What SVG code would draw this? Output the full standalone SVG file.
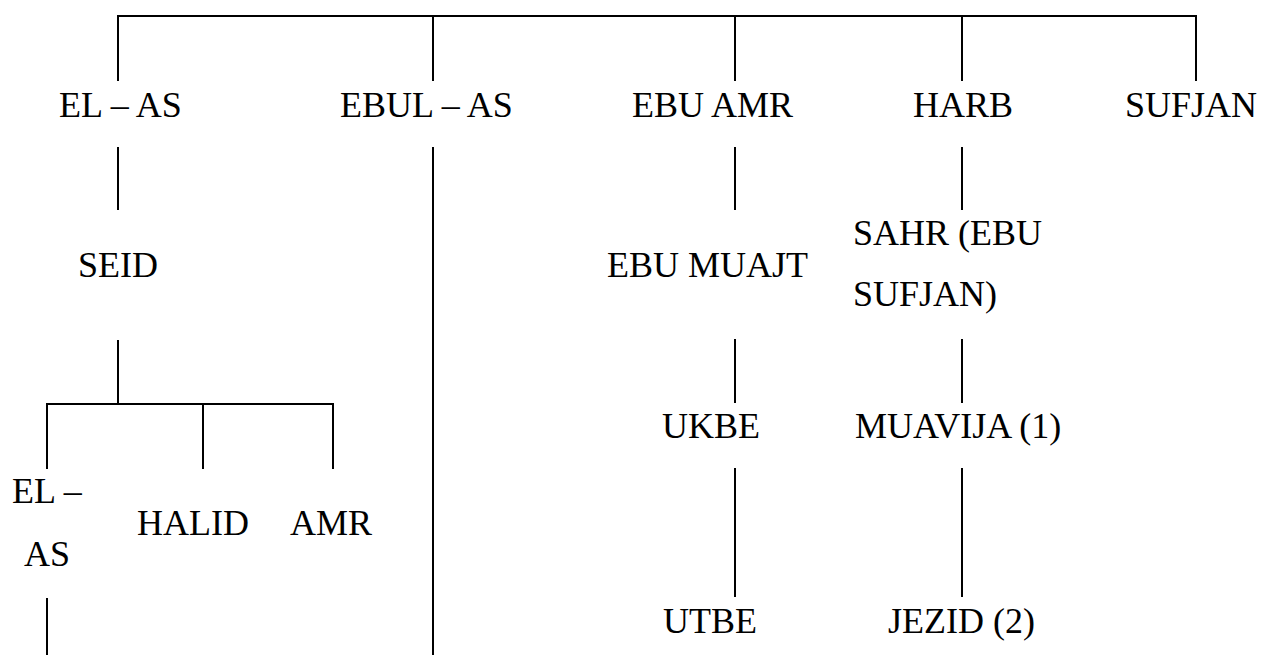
<svg xmlns="http://www.w3.org/2000/svg" width="1269" height="655" viewBox="0 0 1269 655">
<style>
.l{stroke:#000;stroke-width:2;fill:none}
.t{font-family:"Liberation Serif","Times New Roman",serif;font-size:36px;fill:#000}
</style>
<rect width="1269" height="655" fill="#fff"/>
<g id="connectors" class="l">
<path d="M118 81V16H1196V81M433 16V81M735 16V81M962 16V81"/>
<path d="M118 147V210M433 147V655M735 147V210M962 147V210"/>
<path d="M118 340V404M47 469V404H333V469M203 404V469"/>
<path d="M735 339V403M962 339V403"/>
<path d="M47 598V655M735 468V597M962 468V597"/>
</g>
<g id="n-elas"><text class="t" x="59" y="117">EL – AS</text></g>
<g id="n-ebulas"><text class="t" x="340" y="117">EBUL – AS</text></g>
<g id="n-ebuamr"><text class="t" x="632" y="117">EBU AMR</text></g>
<g id="n-harb"><text class="t" x="913" y="117">HARB</text></g>
<g id="n-sufjan"><text class="t" x="1125" y="117">SUFJAN</text></g>
<g id="n-seid"><text class="t" x="78" y="277">SEID</text></g>
<g id="n-ebumuajt"><text class="t" x="607" y="277">EBU MUAJT</text></g>
<g id="n-sahr"><text class="t" x="853" y="245">SAHR (EBU</text><text class="t" x="853" y="306">SUFJAN)</text></g>
<g id="n-ukbe"><text class="t" x="662" y="438">UKBE</text></g>
<g id="n-muavija"><text class="t" x="855" y="438">MUAVIJA (1)</text></g>
<g id="n-elas2"><text class="t" x="12" y="503">EL –</text><text class="t" x="24" y="566">AS</text></g>
<g id="n-halid"><text class="t" x="137" y="535">HALID</text></g>
<g id="n-amr"><text class="t" x="290" y="535">AMR</text></g>
<g id="n-utbe"><text class="t" x="663" y="633">UTBE</text></g>
<g id="n-jezid"><text class="t" x="888" y="633">JEZID (2)</text></g>
</svg>
